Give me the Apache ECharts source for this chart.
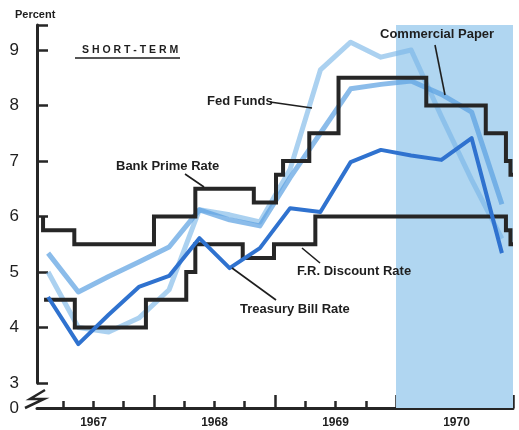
<!DOCTYPE html>
<html>
<head>
<meta charset="utf-8">
<script src="https://cdn.jsdelivr.net/npm/echarts@6/dist/echarts.min.js"></script>
<style>
html,body{margin:0;padding:0;background:#fff;}
#chart{width:519px;height:430px;}
</style>
</head>
<body>
<div id="chart"></div>
<script>
// x = months since Jan 1967; blue lines are quarterly averages at mid-quarter
var quarterMid = [1.5, 4.5, 7.5, 10.5, 13.5, 16.5, 19.5, 22.5, 25.5, 28.5, 31.5, 34.5, 37.5, 40.5, 43.5, 46.5];
var fedFunds = [5.0, 4.0, 3.92, 4.17, 4.68, 6.12, 6.03, 5.9, 6.85, 8.64, 9.14, 8.87, 9.0, 7.8, 6.66, 5.6];
var commercialPaper = [5.34, 4.64, 4.92, 5.18, 5.45, 6.12, 5.94, 5.83, 6.7, 7.5, 8.3, 8.38, 8.44, 8.2, 7.88, 6.22];
var treasuryBill = [4.55, 3.7, 4.23, 4.73, 4.93, 5.61, 5.07, 5.43, 6.15, 6.08, 6.98, 7.2, 7.1, 7.02, 7.41, 5.34];

// step lines: rate in force from each date
var primeDates = [1.0, 1.0, 4.1, 12.0, 16.1, 21.9, 24.1, 24.8, 27.4, 30.3, 39.0, 44.9, 46.9, 47.35, 47.6];
var primeRates = [6.0, 5.75, 5.5, 6.0, 6.5, 6.25, 6.75, 7.0, 7.5, 8.5, 8.0, 7.5, 7.0, 6.75, 6.75];
var discountDates = [1.1, 4.15, 11.2, 15.2, 16.1, 20.8, 23.9, 28.0, 46.9, 47.35, 47.6];
var discountRates = [4.5, 4.0, 4.5, 5.0, 5.5, 5.25, 5.5, 6.0, 5.75, 5.5, 5.5];

var yearLabels = ['1967', '1968', '1969', '1970'];
var yearMid = [6, 18, 30, 42];
var yearTicks = [12, 24, 36, 47.6];
var quarterTicks = [3, 6, 9, 15, 18, 21, 27, 30, 33, 39, 42, 45];
var percentLabels = [3, 4, 5, 6, 7, 8, 9];
var percentTicks = [3, 4, 5, 6, 7, 8, 9, 9.45];
var recession = [36, 47.6];

function pairs(xs, ys) {
	var out = [];
	for (var i = 0; i < xs.length; i++) out.push([xs[i], ys[i]]);
	return out;
}

var ink = '#262626';
var textFont = 'Liberation Sans';
var shade = '#b0d6f1';

function label(txt, x, y, size) {
	return {type: 'text', left: x, top: y, z: 100, style: {text: txt, fill: '#1e1e1e', font: 'bold ' + (size || 13) + 'px "' + textFont + '"'}};
}
function leader(x1, y1, x2, y2) {
	return {type: 'line', z: 100, shape: {x1: x1, y1: y1, x2: x2, y2: y2}, style: {stroke: '#1e1e1e', lineWidth: 1.6}};
}

var chart = echarts.init(document.getElementById('chart'));
var option = {
	backgroundColor: '#fff',
	animation: false,
	grid: [
		{left: 37, right: 6, top: 25, height: 358},
		{left: 37, right: 6, top: 383, height: 25}
	],
	xAxis: [
		{gridIndex: 0, type: 'value', min: 0.4, max: 47.6, show: false},
		{gridIndex: 1, type: 'value', min: 0.4, max: 47.6, position: 'bottom',
			axisLine: {show: true, lineStyle: {color: ink, width: 3}},
			axisTick: {show: true, inside: true, length: 13, customValues: yearTicks, lineStyle: {color: ink, width: 2.5}},
			axisLabel: {customValues: yearMid, margin: 9, color: '#1e1e1e', fontSize: 12, fontWeight: 'bold', fontFamily: textFont,
				formatter: function (v) { return yearLabels[yearMid.indexOf(v)]; }},
			splitLine: {show: false}},
		{gridIndex: 1, type: 'value', min: 0.4, max: 47.6, position: 'bottom', offset: 0,
			axisLine: {show: false},
			axisTick: {show: true, inside: true, length: 7, customValues: quarterTicks, lineStyle: {color: ink, width: 2.5}},
			axisLabel: {show: false},
			splitLine: {show: false}}
	],
	yAxis: [
		{gridIndex: 0, type: 'value', min: 3, max: 9.45, interval: 1,
			axisLine: {show: true, lineStyle: {color: ink, width: 3}},
			axisTick: {show: true, inside: true, length: 11, customValues: percentTicks, lineStyle: {color: ink, width: 2.5}},
			axisLabel: {customValues: percentLabels, margin: 18, color: '#1e1e1e', fontSize: 17, fontFamily: textFont},
			splitLine: {show: false}},
		{gridIndex: 1, type: 'value', min: 0, max: 1, interval: 1,
			axisLine: {show: false}, axisTick: {show: false},
			axisLabel: {margin: 18, color: '#1e1e1e', fontSize: 17, fontFamily: textFont,
				formatter: function (v) { return v === 0 ? '0' : ''; }},
			splitLine: {show: false}}
	],
	series: [
		{name: 'shade', type: 'line', xAxisIndex: 1, yAxisIndex: 1, data: [], silent: true,
			markArea: {silent: true, itemStyle: {color: shade}, data: [[{xAxis: recession[0]}, {xAxis: recession[1]}]]}},
		{name: 'Fed Funds', type: 'line', data: pairs(quarterMid, fedFunds), symbol: 'none', z: 3,
			lineStyle: {color: 'rgba(120,180,230,0.62)', width: 5, join: 'round'},
			markArea: {silent: true, itemStyle: {color: shade}, data: [[{xAxis: recession[0]}, {xAxis: recession[1]}]]}},
		{name: 'Commercial Paper', type: 'line', data: pairs(quarterMid, commercialPaper), symbol: 'none', z: 3,
			lineStyle: {color: 'rgba(90,160,225,0.7)', width: 5, join: 'round'}},
		{name: 'Bank Prime Rate', type: 'line', step: 'end', data: pairs(primeDates, primeRates), symbol: 'none', z: 4,
			lineStyle: {color: ink, width: 4, join: 'miter'}},
		{name: 'F.R. Discount Rate', type: 'line', step: 'end', data: pairs(discountDates, discountRates), symbol: 'none', z: 4,
			lineStyle: {color: ink, width: 4, join: 'miter'}},
		{name: 'Treasury Bill Rate', type: 'line', data: pairs(quarterMid, treasuryBill), symbol: 'none', z: 5,
			lineStyle: {color: '#2f72cf', width: 4, join: 'round'}}
	],
	graphic: [
		label('Percent', 15, 9, 11),
		label('S H O R T - T E R M', 82, 45, 10.5),
		leader(75, 58, 180, 58),
		label('Fed Funds', 207, 95),
		leader(270, 102, 312, 108),
		label('Commercial Paper', 380, 28),
		leader(435, 45, 445, 95),
		label('Bank Prime Rate', 116, 160),
		leader(185, 174, 204, 187),
		label('F.R. Discount Rate', 297, 265),
		leader(302, 248, 320, 263),
		label('Treasury Bill Rate', 240, 303),
		leader(232, 268, 276, 300),
		{type: 'polyline', z: 100, shape: {points: [[25, 408], [44, 399], [30, 399], [45, 390]]}, style: {stroke: ink, lineWidth: 2.5, fill: null}}
	]
};
chart.setOption(option);
</script>
</body>
</html>
